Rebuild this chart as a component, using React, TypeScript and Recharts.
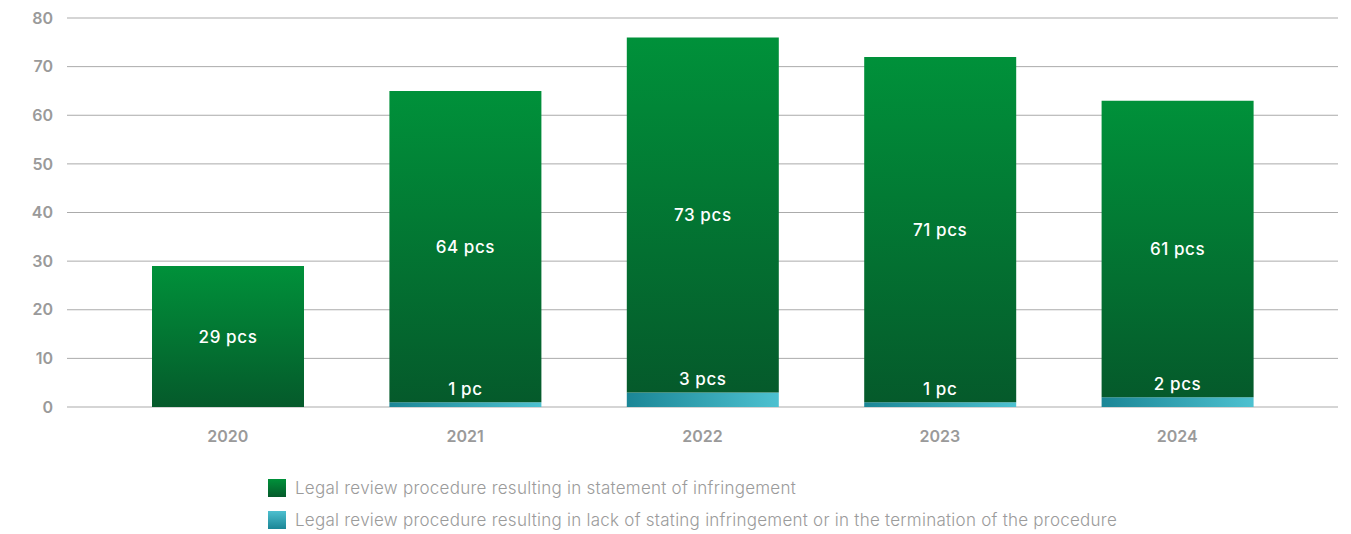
import React from 'react';
import { BarChart, Bar, XAxis, YAxis, CartesianGrid, LabelList } from 'recharts';

const years = ['2020', '2021', '2022', '2023', '2024'];
const infringementStated = [29, 64, 73, 71, 61];
const noInfringementOrTerminated = [0, 1, 3, 1, 2];
const yTicks = [0, 10, 20, 30, 40, 50, 60, 70, 80];
const legendLabels = [
  'Legal review procedure resulting in statement of infringement',
  'Legal review procedure resulting in lack of stating infringement or in the termination of the procedure',
];

const data = years.map((year, i) => ({
  year,
  stated: infringementStated[i],
  notStated: noInfringementOrTerminated[i],
}));

const fmt = (v: any) => {
  const n = Number(v);
  if (!n) return '';
  return n === 1 ? `${n} pc` : `${n} pcs`;
};

const FONT = 'Inter, "Noto Sans", Arial, sans-serif';

export default function App() {
  return (
    <div style={{ position: 'absolute', left: 0, top: 0, width: 1351, height: 534, background: '#fff' }}>
      <BarChart
        width={1351}
        height={534}
        data={data}
        margin={{ top: 18, right: 13, left: 0, bottom: 0 }}
        barSize={152}
      >
        <defs>
          <linearGradient id="gGreen" x1="0" y1="0" x2="0" y2="1">
            <stop offset="0%" stopColor="#00913a" />
            <stop offset="100%" stopColor="#055a2b" />
          </linearGradient>
          <linearGradient id="gTeal" x1="0" y1="0" x2="1" y2="0">
            <stop offset="0%" stopColor="#1b8696" />
            <stop offset="100%" stopColor="#4dc1d0" />
          </linearGradient>
        </defs>
        <CartesianGrid vertical={false} stroke="#ababab" strokeWidth={1} />
        <XAxis
          dataKey="year"
          axisLine={false}
          tickLine={false}
          tickSize={0}
          tickMargin={24}
          height={127}
          padding={{ left: 42, right: 42 }}
          tick={{ fill: '#9a9a9a', fontSize: 16, fontWeight: 600, fontFamily: FONT }}
          interval={0}
        />
        <YAxis
          domain={[0, 80]}
          ticks={yTicks}
          axisLine={false}
          tickLine={false}
          tickSize={0}
          tickMargin={14}
          width={67}
          tick={{ fill: '#9a9a9a', fontSize: 16, fontWeight: 600, fontFamily: FONT }}
        />
        <Bar dataKey="notStated" stackId="a" fill="url(#gTeal)" isAnimationActive={false}>
          <LabelList
            dataKey="notStated"
            position="top"
            offset={7}
            formatter={fmt}
            style={{ fill: '#ffffff', fontSize: 17, fontWeight: 500, fontFamily: FONT, letterSpacing: 0.6 }}
          />
        </Bar>
        <Bar dataKey="stated" stackId="a" fill="url(#gGreen)" isAnimationActive={false}>
          <LabelList
            dataKey="stated"
            position="center"
            formatter={fmt}
            style={{ fill: '#ffffff', fontSize: 17, fontWeight: 500, fontFamily: FONT, letterSpacing: 0.6 }}
          />
        </Bar>
      </BarChart>
      <div style={{ position: 'absolute', left: 268, top: 479, fontFamily: FONT, fontSize: 17, fontWeight: 300, color: '#9b9b9b', letterSpacing: 0.25 }}>
        {legendLabels.map((label, i) => (
          <div key={label} style={{ display: 'flex', alignItems: 'center', height: 18, marginBottom: i === 0 ? 14 : 0 }}>
            <span
              style={{
                display: 'inline-block',
                width: 18,
                height: 18,
                marginRight: 9,
                background: i === 0
                  ? 'linear-gradient(to bottom, #00913a, #055a2b)'
                  : 'linear-gradient(to bottom, #4dbfcf, #1b8696)',
              }}
            />
            <span style={{ whiteSpace: 'nowrap' }}>{label}</span>
          </div>
        ))}
      </div>
    </div>
  );
}
